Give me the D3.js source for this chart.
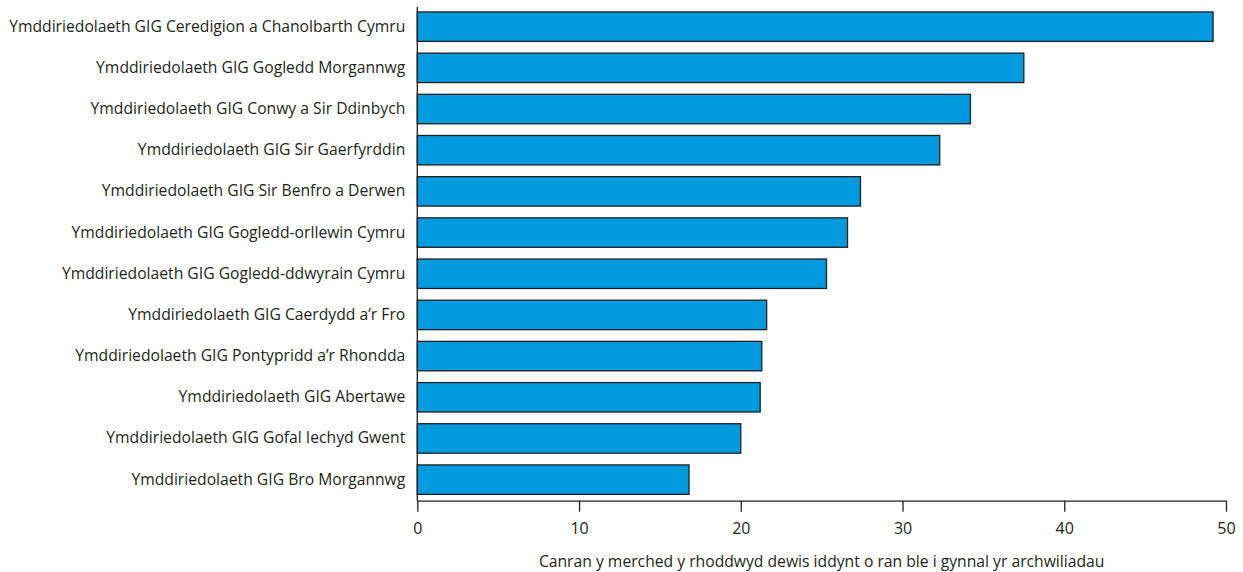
<!DOCTYPE html>
<html><head><meta charset="utf-8">
<script src="https://cdn.jsdelivr.net/npm/d3@7"></script>
<style>
html,body{margin:0;padding:0;background:#fff;}
svg{display:block;}
text{font-family:"Open Sans",sans-serif;fill:#231f20;}
</style></head>
<body>
<svg id="chart" width="1243" height="572"></svg>
<script>
const categories = [
  "Ymddiriedolaeth GIG Ceredigion a Chanolbarth Cymru",
  "Ymddiriedolaeth GIG Gogledd Morgannwg",
  "Ymddiriedolaeth GIG Conwy a Sir Ddinbych",
  "Ymddiriedolaeth GIG Sir Gaerfyrddin",
  "Ymddiriedolaeth GIG Sir Benfro a Derwen",
  "Ymddiriedolaeth GIG Gogledd-orllewin Cymru",
  "Ymddiriedolaeth GIG Gogledd-ddwyrain Cymru",
  "Ymddiriedolaeth GIG Caerdydd a’r Fro",
  "Ymddiriedolaeth GIG Pontypridd a’r Rhondda",
  "Ymddiriedolaeth GIG Abertawe",
  "Ymddiriedolaeth GIG Gofal Iechyd Gwent",
  "Ymddiriedolaeth GIG Bro Morgannwg"
];
const values = [49.2, 37.5, 34.2, 32.3, 27.4, 26.6, 25.3, 21.6, 21.3, 21.2, 20.0, 16.8];
const xTicks = [0, 10, 20, 30, 40, 50];
const xTitle = "Canran y merched y rhoddwyd dewis iddynt o ran ble i gynnal yr archwiliadau";

const svg = d3.select("#chart");
const x = d3.scaleLinear().domain([0, 50]).range([417.3, 1226]);
const y = d3.scaleBand().domain(categories).range([7, 499.3]).paddingInner(0.285).paddingOuter(0.12);

svg.append("g").selectAll("rect").data(values).join("rect")
  .attr("x", x(0))
  .attr("y", (d, i) => y(categories[i]))
  .attr("width", d => x(d) - x(0))
  .attr("height", y.bandwidth())
  .attr("fill", "#009ade")
  .attr("stroke", "#231f20")
  .attr("stroke-width", 1.3);

// y axis
const yAxis = svg.append("g").attr("transform", `translate(${x(0)},0)`)
  .call(d3.axisLeft(y).tickSize(0).tickPadding(12));
yAxis.select(".domain").remove();
yAxis.selectAll("text").style("font-size", "15.7px").attr("fill", "#231f20");
svg.append("line").attr("x1", x(0)).attr("x2", x(0)).attr("y1", 7).attr("y2", 501)
  .attr("stroke", "#231f20").attr("stroke-width", 1.3);

// x axis
const xAxis = svg.append("g").attr("transform", "translate(0,500.7)")
  .call(d3.axisBottom(x).tickValues(xTicks).tickSize(11).tickSizeOuter(0).tickPadding(11));
xAxis.select(".domain").attr("stroke", "#231f20").attr("stroke-width", 1.3);
xAxis.selectAll(".tick line").attr("stroke", "#231f20").attr("stroke-width", 1.3);
xAxis.selectAll("text").style("font-size", "16px").attr("fill", "#231f20");

svg.append("text").attr("x", (x(0) + x(50)) / 2).attr("y", 567)
  .attr("text-anchor", "middle").style("font-size", "15.7px").text(xTitle);
</script>
</body></html>
